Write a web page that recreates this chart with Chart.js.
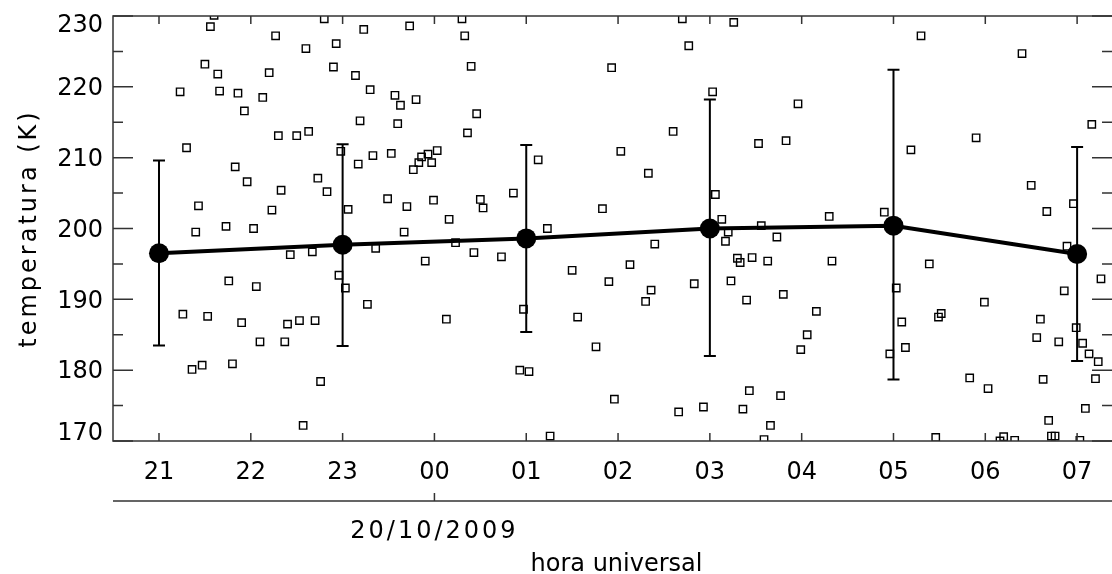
<!DOCTYPE html>
<html>
<head>
<meta charset="utf-8">
<script src="https://cdn.jsdelivr.net/npm/chart.js@4/dist/chart.umd.min.js"></script>
<style>
  html, body { margin: 0; background: #fff; overflow: hidden; }
  #wrap { width: 1112px; height: 574px; position: relative; }
  canvas { display: block; }
</style>
</head>
<body>
<div id="wrap"><canvas id="grafico"></canvas></div>
<script>
// horas (24 = 00h do dia 20/10/2009) e temperaturas de cada medida
const horas = [
  21.60, 21.56, 22.27, 22.80, 23.23, 23.73, 22.60, 22.93, 21.50, 21.64,
  22.20, 22.90, 23.14, 21.23, 21.66, 21.86, 22.13, 23.30, 23.57, 23.63,
  23.80, 21.93, 23.19, 23.60, 22.30, 22.50, 22.63, 21.30, 22.98, 23.33,
  23.53, 24.03, 23.93, 23.86, 23.83, 23.97, 23.77, 23.17, 21.83, 21.96,
  22.33, 22.73, 22.83, 21.43, 22.23, 23.06, 23.49, 23.70, 23.99, 24.16,
  21.73, 22.03, 21.40, 23.67, 22.43, 22.67, 23.36, 23.90, 21.76, 22.06,
  22.96, 23.03, 23.27, 24.13, 21.26, 21.53, 21.90, 22.40, 22.53, 22.70,
  22.10, 22.37, 21.36, 21.47, 21.80, 22.76, 22.57, 24.30, 24.33, 24.40,
  24.46, 24.36, 25.13, 24.86, 24.50, 24.53, 25.23, 25.83, 25.93, 26.03,
  26.33, 26.60, 26.70, 26.77, 27.03, 27.06, 27.13, 27.26, 27.53, 27.56,
  24.23, 24.43, 24.73, 24.97, 24.93, 25.03, 25.50, 25.56, 25.76, 25.96,
  25.26, 25.90, 26.13, 26.40, 26.36, 26.30, 26.66, 26.93, 26.83, 27.17,
  27.20, 27.30, 27.33, 27.46, 27.63, 27.73, 27.23, 27.40, 27.43, 27.36,
  27.66, 27.59, 27.77, 27.96, 27.83, 28.30, 28.90, 29.30, 29.19, 29.90,
  30.40, 30.50, 30.67, 30.96, 31.16, 28.33, 27.80, 28.16, 28.06, 27.99,
  29.39, 29.03, 29.09, 29.13, 28.96, 29.52, 29.49, 29.99, 29.83, 30.03,
  29.46, 30.20, 30.16, 30.32, 30.89, 30.86, 30.60, 30.56, 30.80, 30.99,
  31.06, 31.13, 31.23, 31.26, 31.20, 30.63, 31.09, 30.69, 30.72, 30.76,
  31.03
];
const temperaturas = [
  230.1, 228.5, 227.2, 229.6, 228.1, 228.6, 225.4, 226.1, 223.2, 221.8,
  222.0, 222.8, 221.6, 219.3, 219.4, 219.1, 218.5, 219.6, 218.8, 217.4,
  218.2, 216.6, 215.2, 214.8, 213.1, 213.1, 213.7, 211.4, 210.9, 210.3,
  210.6, 211.0, 210.5, 210.1, 209.3, 209.3, 208.3, 209.1, 208.7, 206.6,
  205.4, 207.1, 205.2, 203.2, 202.6, 202.7, 204.2, 203.1, 204.0, 201.3,
  200.3, 200.0, 199.5, 199.5, 196.3, 196.7, 197.2, 195.4, 192.6, 191.8,
  193.4, 191.6, 189.3, 187.2, 187.9, 187.6, 186.7, 186.5, 187.0, 187.0,
  184.0, 184.0, 180.1, 180.7, 180.9, 178.4, 172.2, 229.6, 227.2, 222.9,
  216.2, 213.5, 209.7, 205.0, 204.1, 202.9, 200.0, 202.8, 222.7, 210.9,
  207.8, 213.7, 229.6, 225.8, 219.3, 204.8, 201.3, 229.1, 212.0, 200.4,
  198.0, 196.6, 196.0, 188.6, 180.0, 179.8, 194.1, 187.5, 183.3, 175.9,
  170.7, 192.5, 194.9, 197.8, 191.3, 189.7, 174.1, 174.8, 192.2, 198.2,
  199.5, 195.8, 195.2, 195.9, 195.4, 198.8, 192.6, 189.9, 177.1, 174.5,
  172.2, 170.2, 176.4, 217.6, 212.4, 201.7, 202.3, 227.2, 211.1, 212.8,
  224.7, 206.1, 202.4, 203.5, 214.7, 195.4, 190.7, 188.3, 185.0, 182.9,
  195.0, 191.6, 186.8, 183.2, 182.3, 188.0, 187.5, 189.6, 178.9, 177.4,
  170.5, 170.6, 170.0, 170.1, 197.5, 191.2, 187.2, 184.6, 184.0, 186.0,
  183.8, 182.3, 181.2, 192.9, 178.8, 178.7, 174.6, 172.9, 170.7, 170.7,
  170.1
];

// medias a cada 2 horas com barras de erro
const horasMedia = [21, 23, 25, 27, 29, 31];
const tempMedia = [196.5, 197.7, 198.6, 200.0, 200.4, 196.4];
const erroSup = [209.6, 211.9, 211.8, 218.2, 222.4, 211.5];
const erroInf = [183.5, 183.4, 185.4, 182.0, 178.7, 181.3];

const ticksHora = [21, 22, 23, 24, 25, 26, 27, 28, 29, 30, 31];
const ticksTemp = [170, 180, 190, 200, 210, 220, 230];
const ticksTempMenor = [175, 185, 195, 205, 215, 225];
const horaData = 24;
const rotuloData = "20/10/2009";

const fonte = "24px 'DejaVu Sans', sans-serif";

function nomeHora(h) {
  return String(h % 24).padStart(2, "0");
}

const eixos = {
  id: "eixos",
  afterDatasetsDraw(chart) {
    const ctx = chart.ctx;
    const x = chart.scales.x, y = chart.scales.y;
    ctx.save();
    ctx.strokeStyle = "#000";
    ctx.lineWidth = 2;
    horasMedia.forEach(function (h, i) {
      const px = x.getPixelForValue(h);
      const top = y.getPixelForValue(erroSup[i]);
      const bot = y.getPixelForValue(erroInf[i]);
      ctx.beginPath();
      ctx.moveTo(px, top); ctx.lineTo(px, bot);
      ctx.moveTo(px - 6, top); ctx.lineTo(px + 6, top);
      ctx.moveTo(px - 6, bot); ctx.lineTo(px + 6, bot);
      ctx.stroke();
    });
    ctx.restore();
  },
  afterDraw(chart) {
    const ctx = chart.ctx;
    const a = chart.chartArea;
    const x = chart.scales.x, y = chart.scales.y;
    ctx.save();
    ctx.strokeStyle = "#333";
    ctx.lineWidth = 1.5;

    // moldura (o lado direito fica fora da imagem)
    ctx.beginPath();
    ctx.moveTo(a.right + 2, a.top); ctx.lineTo(a.left, a.top);
    ctx.lineTo(a.left, a.bottom); ctx.lineTo(a.right + 2, a.bottom);
    ctx.stroke();

    // marcas para dentro
    ctx.beginPath();
    ticksTemp.forEach(function (t) {
      const py = y.getPixelForValue(t);
      ctx.moveTo(a.left, py); ctx.lineTo(a.left + 20, py);
      ctx.moveTo(a.right, py); ctx.lineTo(a.right - 20, py);
    });
    ticksTempMenor.forEach(function (t) {
      const py = y.getPixelForValue(t);
      ctx.moveTo(a.left, py); ctx.lineTo(a.left + 10, py);
      ctx.moveTo(a.right, py); ctx.lineTo(a.right - 10, py);
    });
    ticksHora.forEach(function (h) {
      const px = x.getPixelForValue(h);
      ctx.moveTo(px, a.bottom); ctx.lineTo(px, a.bottom - 8);
      ctx.moveTo(px, a.top); ctx.lineTo(px, a.top + 8);
    });
    ctx.stroke();

    // segundo eixo com a data
    const yData = a.bottom + 60;
    const pxData = x.getPixelForValue(horaData);
    ctx.beginPath();
    ctx.moveTo(a.left, yData); ctx.lineTo(a.right + 2, yData);
    ctx.moveTo(pxData, yData); ctx.lineTo(pxData, yData - 8);
    ctx.stroke();

    ctx.fillStyle = "#000";
    ctx.font = fonte;
    ctx.textBaseline = "middle";

    ctx.textAlign = "right";
    ticksTemp.forEach(function (t) {
      let py = y.getPixelForValue(t) + 2;
      py = Math.min(Math.max(py, a.top + 10), a.bottom - 7);
      ctx.fillText(String(t), a.left - 10, py);
    });

    ctx.textAlign = "center";
    ticksHora.forEach(function (h) {
      ctx.fillText(nomeHora(h), x.getPixelForValue(h), a.bottom + 32);
    });
    ctx.fillText("hora universal", (a.left + a.right) / 2 + 4, yData + 64);
    ctx.letterSpacing = "3px";
    ctx.fillText(rotuloData, pxData, yData + 31);

    ctx.translate(30, (a.top + a.bottom) / 2);
    ctx.rotate(-Math.PI / 2);
    ctx.fillText("temperatura (K)", 0, 0);
    ctx.restore();
  }
};

const pontos = horas.map(function (h, i) { return { x: h, y: temperaturas[i] }; });
const medias = horasMedia.map(function (h, i) { return { x: h, y: tempMedia[i] }; });

new Chart(document.getElementById("grafico").getContext("2d"), {
  data: {
    datasets: [
      {
        type: "line",
        data: medias,
        borderColor: "#000",
        borderWidth: 4,
        pointRadius: 10,
        pointBackgroundColor: "#000",
        pointBorderColor: "#000",
        pointBorderWidth: 0,
        tension: 0,
      },
      {
        type: "scatter",
        data: pontos,
        pointStyle: "rect",
        pointRadius: 5.2,
        borderColor: "#000",
        backgroundColor: "rgba(255,255,255,0)",
        pointBorderWidth: 1.4,
      },
    ],
  },
  options: {
    responsive: true,
    maintainAspectRatio: false,
    animation: false,
    events: [],
    layout: { autoPadding: false, padding: { top: 16, right: 0, left: 0, bottom: 0 } },
    plugins: { legend: { display: false }, tooltip: { enabled: false } },
    scales: {
      x: {
        type: "linear",
        min: 20.499,
        max: 31.38,
        ticks: { display: false },
        grid: { display: false },
        border: { display: false },
        afterFit: function (s) { s.height = 133; },
      },
      y: {
        min: 170,
        max: 230,
        ticks: { display: false },
        grid: { display: false },
        border: { display: false },
        afterFit: function (s) { s.width = 113; },
      },
    },
  },
  plugins: [eixos],
});
</script>
</body>
</html>
